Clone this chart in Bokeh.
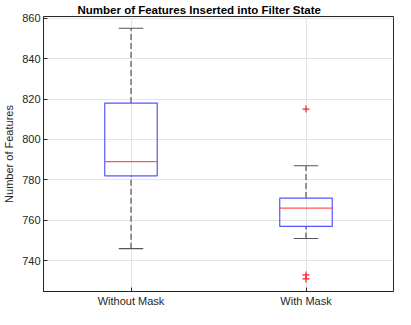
from bokeh.plotting import figure
from bokeh.models import Range1d, FixedTicker, ColumnDataSource
from bokeh.embed import file_html
from bokeh.resources import INLINE

# data
groups = ["Without Mask", "With Mask"]
positions = [1, 2]
lower_whisker = [746, 751]
q1 = [782, 757]
median = [789, 766]
q3 = [818, 771]
upper_whisker = [855, 787]
outlier_group = [2, 2, 2]
outlier_values = [815, 733, 731]
y_ticks = [740, 760, 780, 800, 820, 840, 860]

BOX_HW = 0.15
CAP_HW = 0.07
FONT = "Liberation Sans"
TXT = "#262626"

p = figure(width=395, height=309, output_backend="svg", toolbar_location=None,
           x_range=Range1d(0.5, 2.5), y_range=Range1d(724.8, 860.8),
           title="Number of Features Inserted into Filter State",
           min_border_left=38, min_border_right=2, min_border_top=0, min_border_bottom=0)
p.background_fill_color = "white"
p.border_fill_color = "white"
p.outline_line_color = "#262626"
p.outline_line_width = 1

p.title.align = "left"
p.title.text_font = FONT
p.title.text_font_size = "11.5px"
p.title.text_font_style = "bold"
p.title.text_color = "#000000"
p.title.offset = 34
p.title.standoff = 2

xa = p.xaxis[0]
xa.ticker = FixedTicker(ticks=positions)
xa.major_label_overrides = {pos: g for pos, g in zip(positions, groups)}
ya = p.yaxis[0]
ya.ticker = FixedTicker(ticks=y_ticks)
ya.axis_label = "Number of Features"
for ax in (xa, ya):
    ax.major_tick_in = 4
    ax.major_tick_out = 0
    ax.minor_tick_line_color = None
    ax.axis_line_color = "#262626"
    ax.major_tick_line_color = "#262626"
    ax.major_label_text_font = FONT
    ax.major_label_text_font_size = "11px"
    ax.major_label_text_color = TXT
    ax.axis_label_text_font = FONT
    ax.axis_label_text_font_size = "11px"
    ax.axis_label_text_font_style = "normal"
    ax.axis_label_text_color = TXT
    ax.major_label_standoff = 3
    ax.axis_label_standoff = 4
xa.axis_label = None
xa.axis_label_standoff = 0
xa.major_label_standoff = 3
xa.major_label_text_line_height = 0.5

p.xgrid.ticker = FixedTicker(ticks=positions)
p.ygrid.ticker = FixedTicker(ticks=y_ticks)
for g in (p.xgrid[0], p.ygrid[0]):
    g.grid_line_color = "#e3e3e3"
    g.grid_line_width = 1

src = ColumnDataSource(dict(
    x=positions,
    left=[x - BOX_HW for x in positions],
    right=[x + BOX_HW for x in positions],
    cl=[x - CAP_HW for x in positions],
    cr=[x + CAP_HW for x in positions],
    lw=lower_whisker, q1=q1, med=median, q3=q3, uw=upper_whisker,
))

# whiskers
p.segment(x0="x", y0="q3", x1="x", y1="uw", source=src, line_color="#555555",
          line_width=1.2, line_dash="6 3")
p.segment(x0="x", y0="lw", x1="x", y1="q1", source=src, line_color="#555555",
          line_width=1.2, line_dash="6 3")
# caps
p.segment(x0="cl", y0="uw", x1="cr", y1="uw", source=src, line_color="#555555", line_width=1.2)
p.segment(x0="cl", y0="lw", x1="cr", y1="lw", source=src, line_color="#555555", line_width=1.2)
# boxes
p.quad(left="left", right="right", bottom="q1", top="q3", source=src,
       fill_color=None, line_color="#5555ff", line_width=1.2)
# medians
p.segment(x0="left", y0="med", x1="right", y1="med", source=src, line_color="#ff5555", line_width=1.2)
# outliers
p.scatter(x=outlier_group, y=outlier_values, marker="cross", size=7,
          line_color="#ff2020", line_width=1.2)

open("out.html", "w").write(file_html(p, INLINE))
